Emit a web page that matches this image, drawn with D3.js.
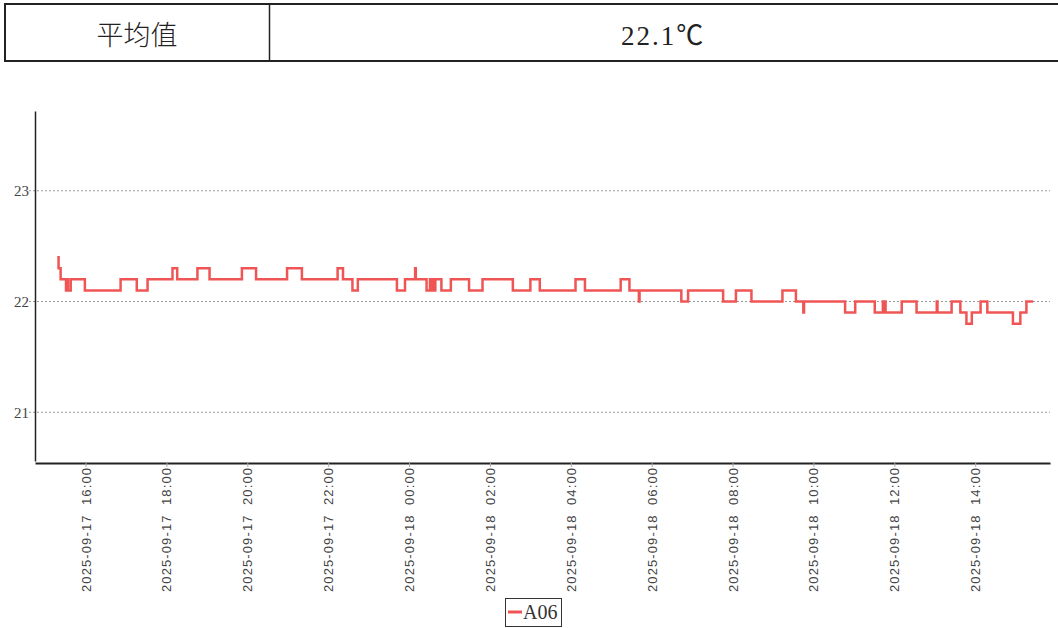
<!DOCTYPE html>
<html>
<head>
<meta charset="utf-8">
<script src="https://cdn.jsdelivr.net/npm/d3@7"></script>
<style>
  html, body { margin: 0; padding: 0; background: #fff; }
  svg { display: block; }
</style>
</head>
<body>
<div id="chart"></div>
<script>
// summary row
const summaryLabel = "平均值";
const summaryValue = "22.1℃";

// series name
const seriesName = "A06";

// change points of the A06 reading (time, value)
const times = [
  "2025-09-17 15:18", "2025-09-17 15:20", "2025-09-17 15:23", "2025-09-17 15:31",
  "2025-09-17 15:33", "2025-09-17 15:34", "2025-09-17 15:38", "2025-09-17 15:59",
  "2025-09-17 16:52", "2025-09-17 17:16", "2025-09-17 17:32", "2025-09-17 18:09",
  "2025-09-17 18:16", "2025-09-17 18:46", "2025-09-17 19:04", "2025-09-17 19:52",
  "2025-09-17 20:13", "2025-09-17 20:59", "2025-09-17 21:21", "2025-09-17 22:14",
  "2025-09-17 22:22", "2025-09-17 22:36", "2025-09-17 22:44", "2025-09-17 23:42",
  "2025-09-17 23:54", "2025-09-18 00:09", "2025-09-18 00:10", "2025-09-18 00:26",
  "2025-09-18 00:31", "2025-09-18 00:33", "2025-09-18 00:35", "2025-09-18 00:37",
  "2025-09-18 00:39", "2025-09-18 00:48", "2025-09-18 01:02", "2025-09-18 01:29",
  "2025-09-18 01:49", "2025-09-18 02:34", "2025-09-18 03:00", "2025-09-18 03:14",
  "2025-09-18 04:07", "2025-09-18 04:21", "2025-09-18 05:14", "2025-09-18 05:27",
  "2025-09-18 05:41", "2025-09-18 05:42", "2025-09-18 06:44", "2025-09-18 06:54",
  "2025-09-18 07:46", "2025-09-18 08:05", "2025-09-18 08:28", "2025-09-18 09:14",
  "2025-09-18 09:34", "2025-09-18 09:45", "2025-09-18 09:46", "2025-09-18 10:47",
  "2025-09-18 11:02", "2025-09-18 11:31", "2025-09-18 11:43", "2025-09-18 11:45",
  "2025-09-18 11:46", "2025-09-18 11:47", "2025-09-18 12:11", "2025-09-18 12:33",
  "2025-09-18 13:03", "2025-09-18 13:04", "2025-09-18 13:25", "2025-09-18 13:38",
  "2025-09-18 13:47", "2025-09-18 13:55", "2025-09-18 14:08", "2025-09-18 14:18",
  "2025-09-18 14:56", "2025-09-18 15:07", "2025-09-18 15:16", "2025-09-18 15:26"
];
const values = [
  22.4, 22.3, 22.2, 22.1,
  22.2, 22.1, 22.2, 22.1,
  22.2, 22.1, 22.2, 22.3,
  22.2, 22.3, 22.2, 22.3,
  22.2, 22.3, 22.2, 22.3,
  22.2, 22.1, 22.2, 22.1,
  22.2, 22.3, 22.2, 22.1,
  22.2, 22.1, 22.2, 22.1,
  22.2, 22.1, 22.2, 22.1,
  22.2, 22.1, 22.2, 22.1,
  22.2, 22.1, 22.2, 22.1,
  22.0, 22.1, 22.0, 22.1,
  22.0, 22.1, 22.0, 22.1,
  22.0, 21.9, 22.0, 21.9,
  22.0, 21.9, 22.0, 21.9,
  22.0, 21.9, 22.0, 21.9,
  22.0, 21.9, 22.0, 21.9,
  21.8, 21.9, 22.0, 21.9,
  21.8, 21.9, 22.0, 22.0
];

// axis settings
const xDomain = ["2025-09-17 14:45", "2025-09-18 15:51"];
const yDomain = [20.56, 23.72];
const yTicks = [21, 22, 23];

const W = 1058, H = 628;
const parseTime = d3.timeParse("%Y-%m-%d %H:%M");
const data = times.map((t, i) => ({ t: parseTime(t), v: values[i] }));

const svg = d3.select("#chart").append("svg")
  .attr("width", W).attr("height", H);

svg.append("rect").attr("width", W).attr("height", H).attr("fill", "#fff");

// summary table
const table = svg.append("g");
table.append("rect")
  .attr("x", 5).attr("y", 4).attr("width", W + 5).attr("height", 57)
  .attr("fill", "none").attr("stroke", "#222").attr("stroke-width", 2);
table.append("line")
  .attr("x1", 269.5).attr("x2", 269.5).attr("y1", 4).attr("y2", 61)
  .attr("stroke", "#222").attr("stroke-width", 1.5);
table.append("text")
  .attr("x", 137).attr("y", 36).attr("dy", "0.35em")
  .attr("text-anchor", "middle")
  .style("font-family", "'Noto Sans CJK SC'")
  .style("font-size", "27px").style("font-weight", 300)
  .attr("fill", "#222")
  .text(summaryLabel);
table.append("text")
  .attr("x", 663).attr("y", 36).attr("dy", "0.35em")
  .attr("text-anchor", "middle")
  .style("font-family", "'Liberation Serif', 'Noto Sans CJK SC'")
  .style("font-size", "27px")
  .style("letter-spacing", "2px")
  .attr("fill", "#222")
  .text(summaryValue);

// scales
const x = d3.scaleTime()
  .domain(xDomain.map(parseTime))
  .range([35, 1050]);
const y = d3.scaleLinear()
  .domain(yDomain)
  .range([461, 111]);

// grid lines
svg.append("g").selectAll("line")
  .data(yTicks)
  .join("line")
  .attr("x1", 29).attr("x2", 1050)
  .attr("y1", d => y(d)).attr("y2", d => y(d))
  .attr("stroke", "#999")
  .attr("stroke-width", 1)
  .attr("stroke-dasharray", "2,2");

// y axis
const yAxis = svg.append("g")
  .attr("transform", "translate(35,0)")
  .call(d3.axisLeft(y).tickValues(yTicks).tickSize(0).tickPadding(6).tickFormat(d3.format("d")));
yAxis.select(".domain").attr("stroke", "#222").attr("stroke-width", 1.5);
yAxis.selectAll("text")
  .style("font-family", "'Liberation Serif', serif")
  .style("font-size", "15px")
  .attr("fill", "#444");

// x axis
const xAxis = svg.append("g")
  .attr("transform", "translate(0,463)")
  .call(d3.axisBottom(x)
    .ticks(d3.timeHour.every(2))
    .tickSize(4)
    .tickSizeOuter(0)
    .tickFormat(d3.timeFormat("%Y-%m-%d  %H:%M")));
xAxis.select(".domain").attr("stroke", "#222").attr("stroke-width", 2);
xAxis.selectAll(".tick line").attr("stroke", "#aaa");
xAxis.selectAll("text")
  .attr("transform", "rotate(-90)")
  .attr("x", -5).attr("y", 0).attr("dy", "0.35em")
  .style("text-anchor", "end")
  .style("font-family", "'Liberation Sans', sans-serif")
  .style("font-size", "13px")
  .style("white-space", "pre")
  .attr("textLength", 124)
  .attr("lengthAdjust", "spacing")
  .attr("fill", "#444");

// series line
const line = d3.line()
  .x(d => x(d.t))
  .y(d => y(d.v))
  .curve(d3.curveStepAfter);

svg.append("path")
  .datum(data)
  .attr("fill", "none")
  .attr("stroke", "#ef5555")
  .attr("stroke-width", 2.5)
  .attr("stroke-linejoin", "miter")
  .attr("d", line);

// legend
const legend = svg.append("g");
legend.append("rect")
  .attr("x", 505.5).attr("y", 598.5).attr("width", 56).attr("height", 28)
  .attr("fill", "#fff").attr("stroke", "#333").attr("stroke-width", 1);
legend.append("line")
  .attr("x1", 508).attr("x2", 522).attr("y1", 612).attr("y2", 612)
  .attr("stroke", "#ef5555").attr("stroke-width", 3);
legend.append("text")
  .attr("x", 523).attr("y", 619)
  .style("font-family", "'Liberation Serif', serif")
  .style("font-size", "20px")
  .attr("fill", "#333")
  .text(seriesName);
</script>
</body>
</html>
